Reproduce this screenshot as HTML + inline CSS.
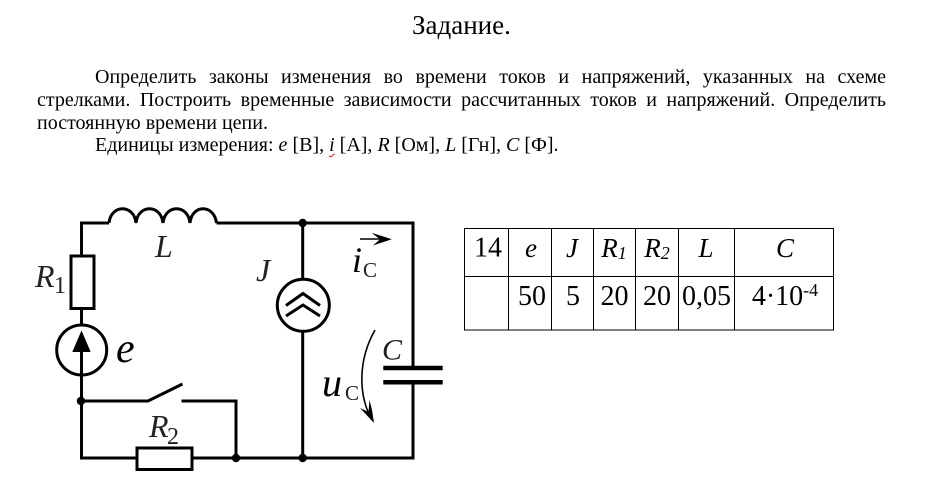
<!DOCTYPE html>
<html><head><meta charset="utf-8">
<style>
html,body{margin:0;padding:0;background:#fff}
body{width:931px;height:500px;position:relative;overflow:hidden;font-family:"Liberation Serif","Noto Serif CJK SC",serif;color:#000}
.l{position:absolute;left:37px;width:849px;font-size:20px;line-height:22px;height:22px;white-space:nowrap}
.j{text-align:justify;text-align-last:justify;white-space:normal}
svg{position:absolute;left:0;top:0}
svg text{font-family:"Liberation Serif",serif}
i.u{text-decoration:underline wavy red 1px;text-underline-offset:2px}
</style></head><body>
<div style="position:absolute;left:412px;top:11px;font-size:27px;line-height:28px;white-space:nowrap">Задание.</div>
<div class="l j" style="top:66px;left:95px;width:791px">Определить законы изменения во времени токов и напряжений, указанных на схеме</div>
<div class="l j" style="top:89px">стрелками. Построить временные зависимости рассчитанных токов и напряжений. Определить</div>
<div class="l" style="top:112px">постоянную времени цепи.</div>
<div class="l" style="top:134px;left:95px">Единицы измерения: <i>e</i> [В], <i class="u">i</i> [А], <i>R</i> [Ом], <i>L</i> [Гн], <i>C</i> [Ф].</div>
<svg width="931" height="500" viewBox="0 0 931 500" xmlns="http://www.w3.org/2000/svg">
<g fill="none" stroke="#000" stroke-width="3">
<path d="M81.5 256V223H109M216.5 223H413V368M413 382V458H81.5V401M81.5 309V325M81.5 375V401H148L182.5 384M181.5 401H236V458"/>
<path d="M109 223C111 204 134 204 136 223C138 204 161 204 163 223C165 204 188 204 190 223C192 204 214 204 216.5 223"/>
<rect x="71" y="256" width="23" height="52.5" fill="#fff"/>
<circle cx="81.7" cy="350" r="25"/>
<path d="M81.5 350V375"/>
<rect x="137" y="448" width="55" height="21.5" fill="#fff"/>
<path d="M302.7 223V279M302.7 331V458"/>
<circle cx="303.3" cy="305.3" r="26"/>
<path d="M286 305.5L303 293.5L320 305.5M286 316L303 305L320 316"/>
<path d="M383.3 368H442.7M383.3 382.3H442.7" stroke-width="4.5"/>
<path d="M360 239H384" stroke-width="1.6"/>
<path d="M375 330C358 360 358 395 372 420" stroke-width="1.6"/>
</g>
<path d="M81.5 330.5L90.7 352H72.3Z" fill="#000"/>
<path d="M371.5 232.7L391.7 239.3L373 245.5L380 239.3Z" fill="#000"/>
<path d="M374 423L360 408L368.5 412L369.5 400L372 410Z" fill="#000"/>
<g fill="#000"><circle cx="81" cy="401" r="4.2"/><circle cx="236" cy="458" r="4.2"/><circle cx="302.7" cy="223" r="4.2"/><circle cx="302.7" cy="458" r="4.2"/></g>
<g fill="#222" font-size="32">
<text x="155" y="257" font-style="italic">L</text>
<text x="35" y="287" font-style="italic">R</text><text x="54" y="293" font-size="24">1</text>
<text x="116" y="362" font-size="42" font-style="italic" fill="#000">e</text>
<text x="149" y="437" font-style="italic">R</text><text x="167" y="444" font-size="24">2</text>
<text x="256" y="281" font-style="italic">J</text>
<text x="352" y="272" font-size="36" font-style="italic" fill="#000">i</text><text x="363" y="277" font-size="21">C</text>
<text x="382" y="359.5" font-size="30" font-style="italic">C</text>
<text x="322" y="396" font-size="40" font-style="italic" fill="#000">u</text><text x="345" y="400" font-size="21">C</text>
</g>
<g fill="none" stroke="#000" stroke-width="1">
<rect x="464.5" y="228.5" width="369" height="101.5"/>
<path d="M464.5 276.5H833.5M508.5 228.5V330M551.5 228.5V330M593.5 228.5V330M635.5 228.5V330M678.5 228.5V330M734.5 228.5V330"/>
</g>
<g fill="#000" font-size="27" text-anchor="middle">
<text x="488" y="256.5" font-size="28">14</text>
<text x="531" y="257" font-style="italic">e</text>
<text x="572" y="257" font-style="italic">J</text>
<text x="614" y="257" font-style="italic">R<tspan font-size="18" dy="2">1</tspan></text>
<text x="657" y="257" font-style="italic">R<tspan font-size="18" dy="2">2</tspan></text>
<text x="706" y="257" font-style="italic">L</text>
<text x="785" y="257" font-style="italic">C</text>
</g>
<g fill="#000" font-size="28" text-anchor="middle">
<text x="532" y="305">50</text>
<text x="573" y="305">5</text>
<text x="614.5" y="305">20</text>
<text x="657" y="305">20</text>
<text x="706.5" y="305">0,05</text>
<text x="785" y="305">4·10<tspan font-size="18" dy="-9">-4</tspan></text>
</g>
</svg>
</body></html>
